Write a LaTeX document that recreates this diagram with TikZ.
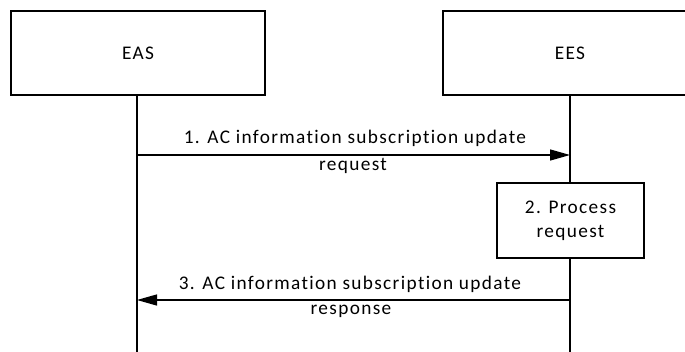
\documentclass[tikz,border=0pt]{standalone}
\usepackage{fontspec}
\setmainfont{Carlito}[LetterSpace=7,Ligatures={NoCommon}]
\usetikzlibrary{arrows.meta}
\begin{document}
\begin{tikzpicture}[x=1pt,y=-1pt,
  every node/.style={font=\fontsize{19.3}{24}\selectfont},
  ent/.style={draw,line width=1.3pt,minimum width=254pt,minimum height=84pt,inner sep=0pt},
  proc/.style={draw,line width=1.3pt,minimum width=147pt,minimum height=75pt,inner sep=0pt,align=center},
  life/.style={line width=1.3pt},
  msg/.style={line width=1.3pt,-{Triangle[length=20pt,width=11pt]}},
  lbl/.style={inner sep=0pt}]
\useasboundingbox (0,0) rectangle (685,351);
\clip (0,0) rectangle (685,351);
\node[ent] (eas) at (138,53) {EAS};
\node[ent] (ees) at (570,53) {EES};
\node[proc] (proc) at (570.5,220.5) {2. Process\\request};
\coordinate (easend) at (137,360);
\coordinate (eesend) at (570,360);
\draw[life] (eas.south -| easend) -- (easend);
\draw[life] (ees.south) -- (proc.north -| ees.south);
\draw[life] (proc.south -| ees.south) -- (eesend);
\coordinate (a1s) at (137,155);
\coordinate (a1e) at (570,155);
\coordinate (a3s) at (570,300);
\coordinate (a3e) at (137,300);
\draw[msg] (a1s) -- (a1e);
\node[lbl] (l1a) at (355,138) {1. AC information subscription update};
\node[lbl] (l1b) at (353,166) {request};
\draw[msg] (a3s) -- (a3e);
\node[lbl] (l3a) at (350,284) {3. AC information subscription update};
\node[lbl] (l3b) at (351,311) {response};
\end{tikzpicture}
\end{document}
